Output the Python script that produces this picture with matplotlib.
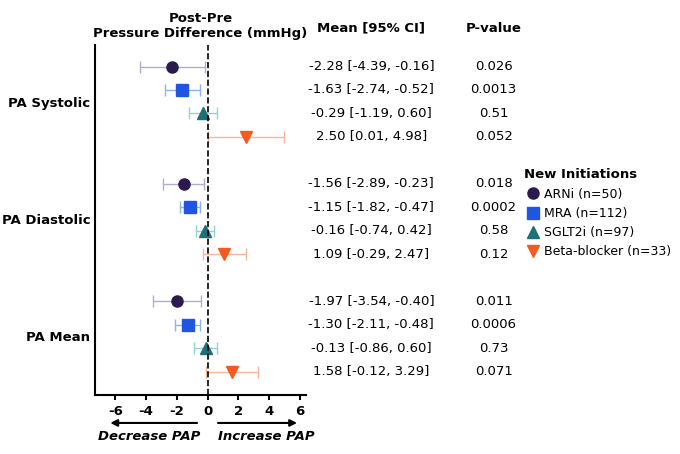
import matplotlib.pyplot as plt
import matplotlib.lines as mlines

groups = ['PA Systolic', 'PA Diastolic', 'PA Mean']
drugs = ['ARNi (n=50)', 'MRA (n=112)', 'SGLT2i (n=97)', 'Beta-blocker (n=33)']
means = [[-2.28, -1.63, -0.29, 2.50],
         [-1.56, -1.15, -0.16, 1.09],
         [-1.97, -1.30, -0.13, 1.58]]
lows = [[-4.39, -2.74, -1.19, 0.01],
        [-2.89, -1.82, -0.74, -0.29],
        [-3.54, -2.11, -0.86, -0.12]]
highs = [[-0.16, -0.52, 0.60, 4.98],
         [-0.23, -0.47, 0.42, 2.47],
         [-0.40, -0.48, 0.60, 3.29]]
pvals = [['0.026', '0.0013', '0.51', '0.052'],
         ['0.018', '0.0002', '0.58', '0.12'],
         ['0.011', '0.0006', '0.73', '0.071']]


def plot_forest():
    colors = ['#2b1a4f', '#1f55e0', '#1d6f78', '#f25a1f']
    light = ['#b3a9d6', '#8fb3f0', '#8ed3d6', '#f7b59c']
    markers = ['o', 's', '^', 'v']
    fs = 9.5

    fig = plt.figure(figsize=(6.8, 4.54), dpi=100)
    ax = fig.add_axes([0.14, 0.13, 0.31, 0.77])
    rows = [[0.6, 1.6, 2.6, 3.6], [5.6, 6.6, 7.6, 8.6], [10.6, 11.6, 12.6, 13.6]]

    for g in range(3):
        for d in range(4):
            y = rows[g][d]
            ax.errorbar(means[g][d], y,
                        xerr=[[means[g][d] - lows[g][d]], [highs[g][d] - means[g][d]]],
                        fmt='none', ecolor=light[d], elinewidth=1, capsize=4)
            ax.plot(means[g][d], y, marker=markers[d], color=colors[d],
                    markersize=8, linestyle='none')
            ci = f'{means[g][d]:.2f} [{lows[g][d]:.2f}, {highs[g][d]:.2f}]'
            ax.text(1.31, y, ci, transform=ax.get_yaxis_transform(),
                    ha='center', va='center', fontsize=fs)
            ax.text(1.89, y, pvals[g][d], transform=ax.get_yaxis_transform(),
                    ha='center', va='center', fontsize=fs)

    ax.axvline(0, color='black', linestyle='--', linewidth=1.2)
    ax.set_xlim(-7.3, 6.4)
    ax.set_ylim(14.6, -0.3)
    ax.set_xticks([-6, -4, -2, 0, 2, 4, 6])
    ax.set_xticklabels(['-6', '-4', '-2', '0', '2', '4', '6'])
    ax.set_yticks([2.1, 7.1, 12.1])
    ax.set_yticklabels(groups, fontweight='bold', fontsize=fs)
    ax.tick_params(axis='y', length=0)
    ax.tick_params(axis='x', labelsize=fs, width=1.5)
    for lab in ax.get_xticklabels():
        lab.set_fontweight('bold')
    ax.spines['top'].set_visible(False)
    ax.spines['right'].set_visible(False)
    ax.spines['left'].set_linewidth(1.5)
    ax.spines['bottom'].set_linewidth(1.5)

    ax.set_title('Post-Pre\nPressure Difference (mmHg)', fontweight='bold', fontsize=fs)
    ax.text(1.31, 1.03, 'Mean [95% CI]', transform=ax.transAxes, ha='center',
            va='bottom', fontweight='bold', fontsize=fs)
    ax.text(1.89, 1.03, 'P-value', transform=ax.transAxes, ha='center',
            va='bottom', fontweight='bold', fontsize=fs)

    # arrows below the axis
    ax.annotate('', xy=(-6.5, -0.08), xytext=(-0.5, -0.08), xycoords=('data', 'axes fraction'),
                arrowprops=dict(arrowstyle='-|>', color='black', lw=1.5), annotation_clip=False)
    ax.annotate('', xy=(6.0, -0.08), xytext=(0.5, -0.08), xycoords=('data', 'axes fraction'),
                arrowprops=dict(arrowstyle='-|>', color='black', lw=1.5), annotation_clip=False)
    ax.text(-3.8, -0.1, 'Decrease PAP', transform=ax.get_xaxis_transform(), ha='center',
            va='top', fontstyle='italic', fontweight='bold', fontsize=fs)
    ax.text(3.8, -0.1, 'Increase PAP', transform=ax.get_xaxis_transform(), ha='center',
            va='top', fontstyle='italic', fontweight='bold', fontsize=fs)

    handles = [mlines.Line2D([], [], color=colors[d], marker=markers[d], linestyle='none',
                             markersize=8, label=drugs[d]) for d in range(4)]
    leg = fig.legend(handles=handles, title='New Initiations', loc='center left',
                     bbox_to_anchor=(0.77, 0.53), frameon=False, fontsize=9,
                     title_fontsize=fs, handletextpad=0.1, handlelength=1.5,
                     borderaxespad=0, borderpad=0)
    leg.get_title().set_fontweight('bold')
    leg._legend_box.align = 'left'

    plt.savefig('out.png', dpi=100)


if __name__ == '__main__':
    plot_forest()
